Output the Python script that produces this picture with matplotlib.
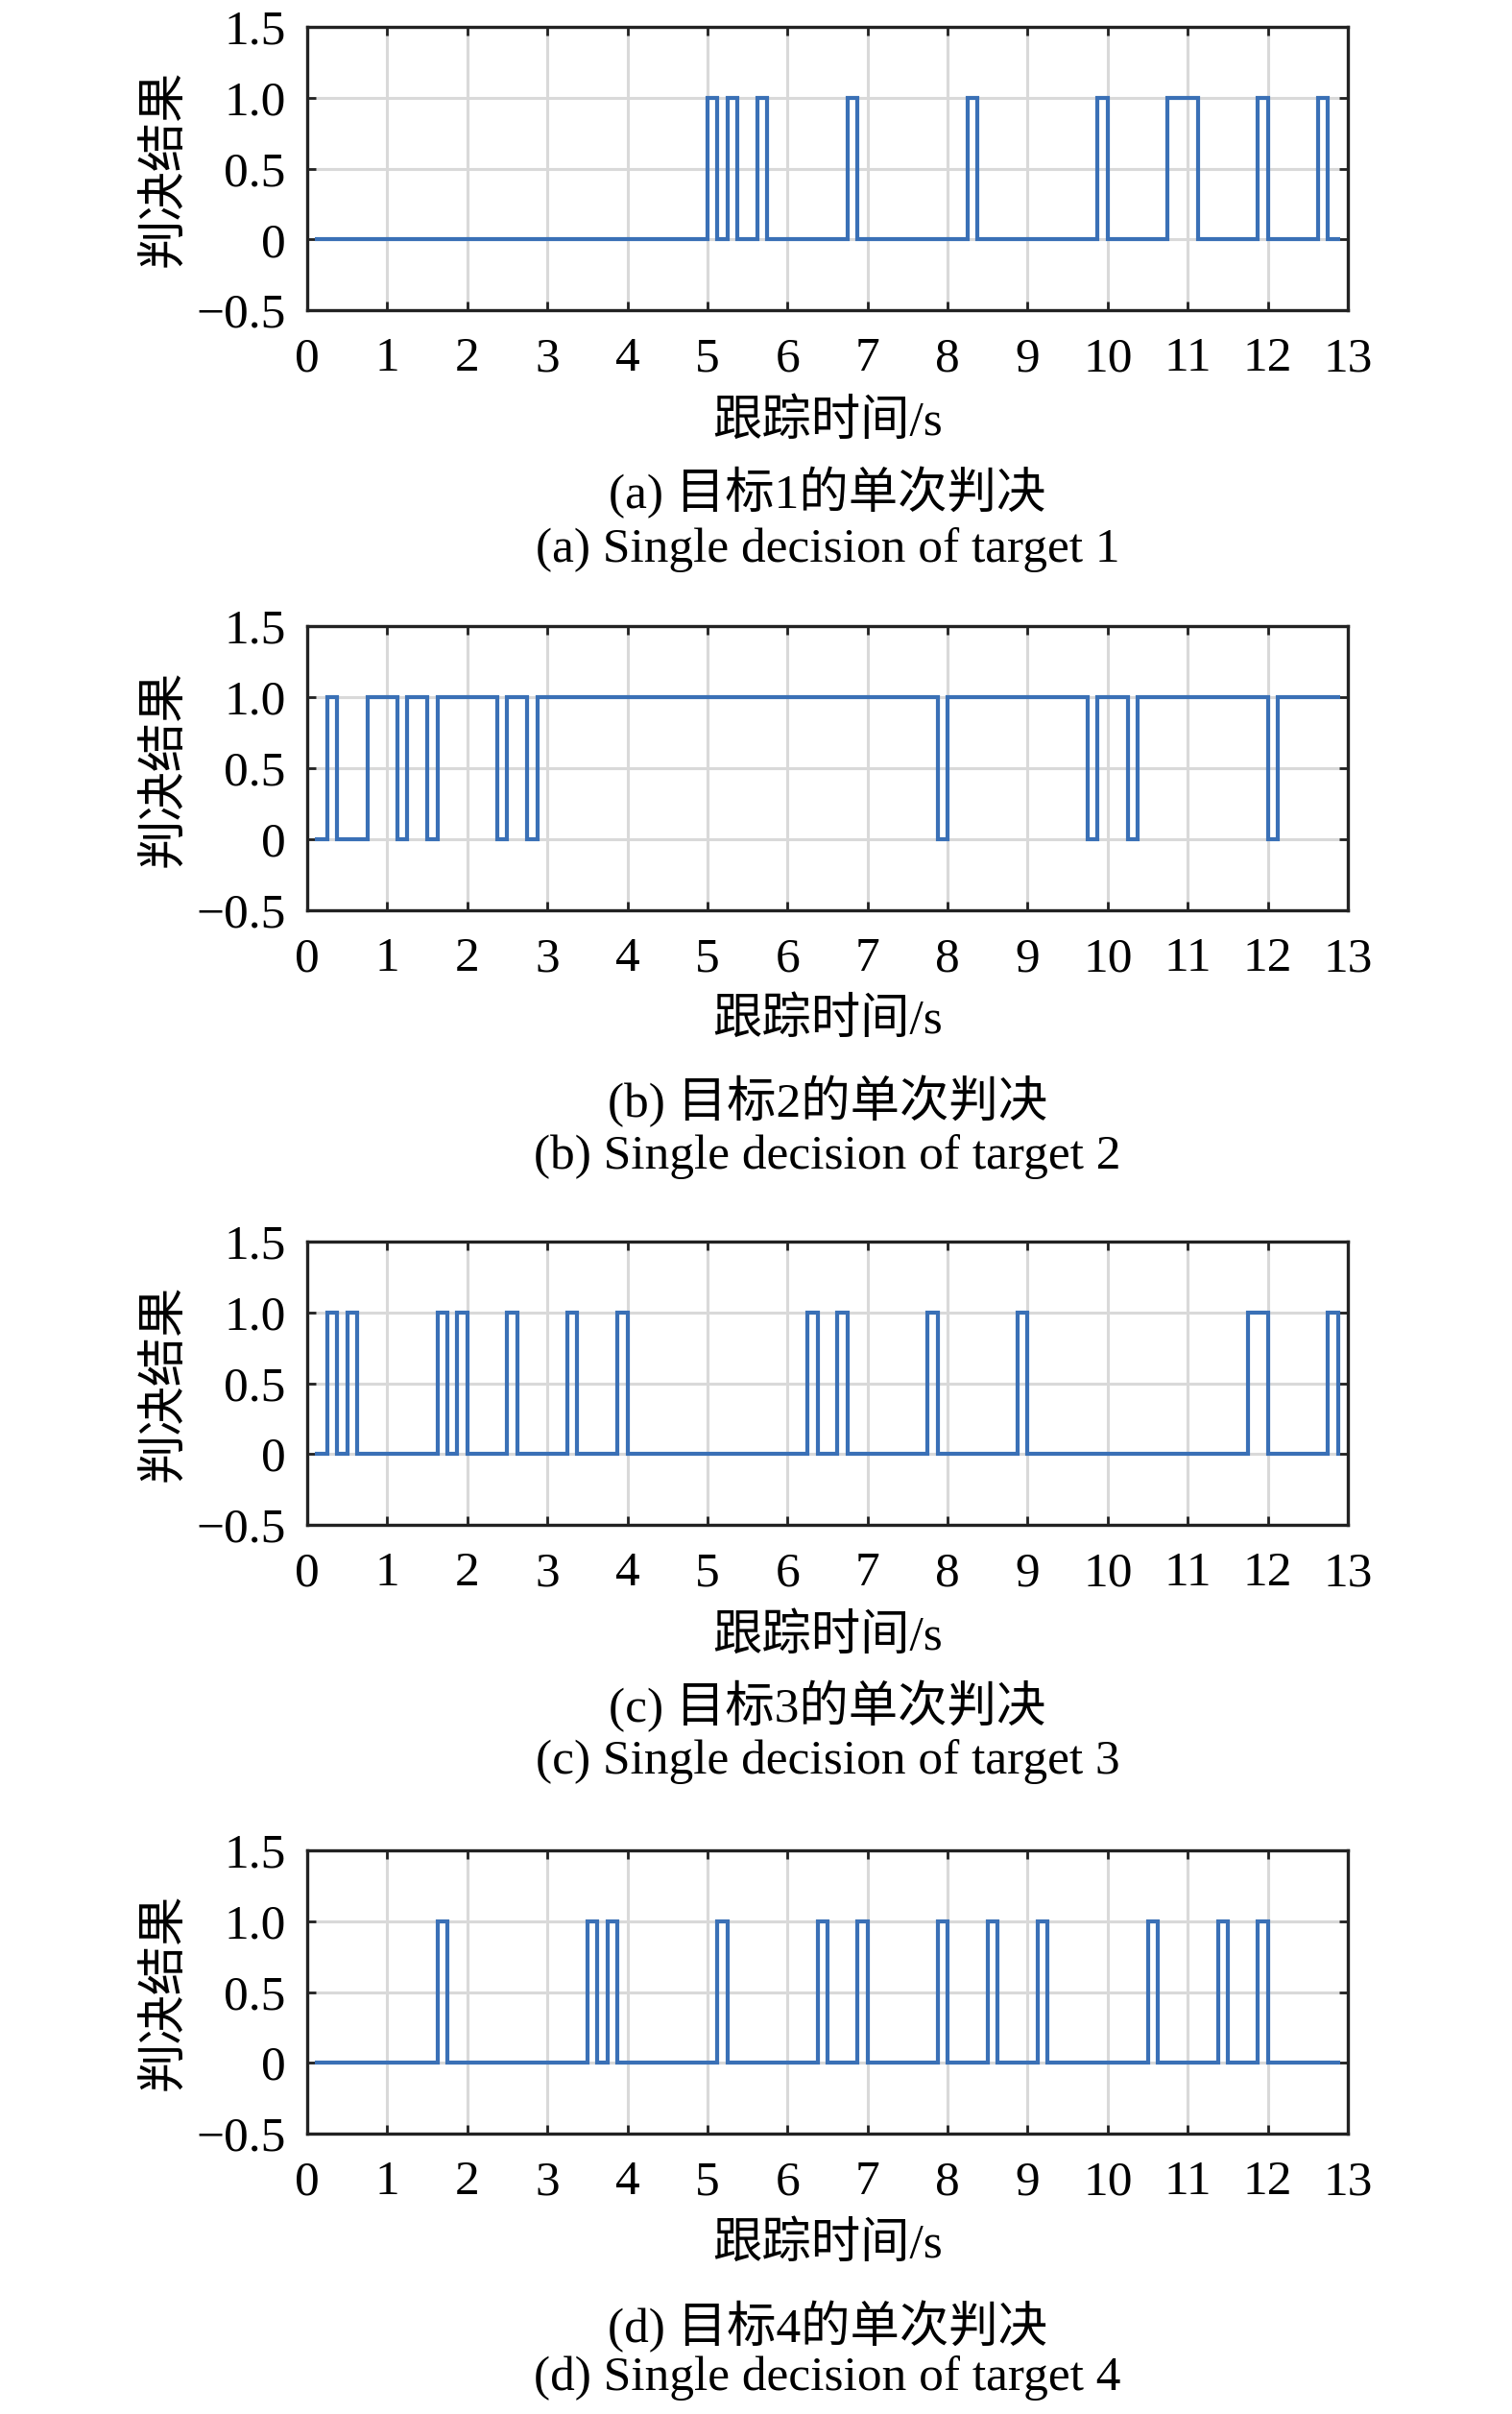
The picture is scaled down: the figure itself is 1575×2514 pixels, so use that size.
import matplotlib
matplotlib.use("Agg")
import matplotlib.pyplot as plt

plt.rcParams['font.family'] = ['Liberation Serif', 'Noto Sans CJK SC', 'DejaVu Sans']
plt.rcParams['axes.unicode_minus'] = True

# ---- data (switch times in seconds and decision levels between them) ----
t1_edges = [0.1, 5.0, 5.125, 5.25, 5.375, 5.625, 5.75, 6.75, 6.875, 8.25, 8.375,
            9.875, 10.0, 10.75, 11.125, 11.875, 12.0, 12.625, 12.75, 12.9]
t1_values = [0, 1, 0, 1, 0, 1, 0, 1, 0, 1, 0, 1, 0, 1, 0, 1, 0, 1, 0]

t2_edges = [0.1, 0.25, 0.375, 0.75, 1.125, 1.25, 1.5, 1.625, 2.375, 2.5, 2.75,
            2.875, 7.875, 8.0, 9.75, 9.875, 10.25, 10.375, 12.0, 12.125, 12.9]
t2_values = [0, 1, 0, 1, 0, 1, 0, 1, 0, 1, 0, 1, 0, 1, 0, 1, 0, 1, 0, 1]

t3_edges = [0.1, 0.25, 0.375, 0.5, 0.625, 1.625, 1.75, 1.875, 2.0, 2.5, 2.625,
            3.25, 3.375, 3.875, 4.0, 6.25, 6.375, 6.625, 6.75, 7.75, 7.875,
            8.875, 9.0, 11.75, 12.0, 12.75, 12.875, 12.9]
t3_values = [0, 1, 0, 1, 0, 1, 0, 1, 0, 1, 0, 1, 0, 1, 0, 1, 0, 1, 0, 1, 0,
             1, 0, 1, 0, 1, 0]

t4_edges = [0.1, 1.625, 1.75, 3.5, 3.625, 3.75, 3.875, 5.125, 5.25, 6.375, 6.5,
            6.875, 7.0, 7.875, 8.0, 8.5, 8.625, 9.125, 9.25, 10.5, 10.625,
            11.375, 11.5, 11.875, 12.0, 12.9]
t4_values = [0, 1, 0, 1, 0, 1, 0, 1, 0, 1, 0, 1, 0, 1, 0, 1, 0, 1, 0, 1, 0,
             1, 0, 1, 0]

x_ticks = list(range(0, 14))
x_ticklabels = [str(v) for v in x_ticks]
y_ticks = [-0.5, 0, 0.5, 1.0, 1.5]
y_ticklabels = ['\u22120.5', '0', '0.5', '1.0', '1.5']

ylabel = '判决结果'
xlabel = '跟踪时间/s'
captions_cn = ['(a) 目标1的单次判决', '(b) 目标2的单次判决',
               '(c) 目标3的单次判决', '(d) 目标4的单次判决']
captions_en = ['(a) Single decision of target 1', '(b) Single decision of target 2',
               '(c) Single decision of target 3', '(d) Single decision of target 4']

series = [(t1_edges, t1_values), (t2_edges, t2_values),
          (t3_edges, t3_values), (t4_edges, t4_values)]

# ---- layout (pixel geometry of the reference) ----
W, H = 1575, 2514
DPI = 100
fig = plt.figure(figsize=(W / DPI, H / DPI), dpi=DPI)

ax_left, ax_right = 320, 1404
ax_tops = [28, 652, 1293, 1927]
ax_bots = [323, 948, 1588, 2222]
xlabel_off = [117, 115, 117, 116]
cap1_off = [190, 199, 189, 201]
cap2_off = [250, 257, 247, 255]

FS = 37
line_color = '#3a70b6'
grid_color = '#d9d9d9'

for i, (edges, vals) in enumerate(series):
    top, bot = ax_tops[i], ax_bots[i]
    ax = fig.add_axes([ax_left / W, 1 - bot / H, (ax_right - ax_left) / W, (bot - top) / H])
    ax.set_xlim(0, 13)
    ax.set_ylim(-0.5, 1.5)
    ax.set_axisbelow(True)
    ax.grid(True, color=grid_color, linewidth=2.2)
    ax.stairs(vals, edges, baseline=None, color=line_color, linewidth=3.0, zorder=3)
    ax.set_xticks(x_ticks)
    ax.set_xticklabels(x_ticklabels)
    ax.set_yticks(y_ticks)
    ax.set_yticklabels(y_ticklabels)
    ax.tick_params(axis='both', direction='in', length=6.5, width=2.0, color='#222222',
                   labelsize=FS, top=True, right=True)
    ax.tick_params(axis='x', pad=20)
    ax.tick_params(axis='y', pad=16)
    for sp in ax.spines.values():
        sp.set_linewidth(2.4)
        sp.set_color('#222222')
    ax.set_ylabel(ylabel, fontsize=FS)
    ax.yaxis.label.set_va('center')
    ax.yaxis.set_label_coords(-(320 - 172) / (ax_right - ax_left), 0.5)
    ax.annotate(xlabel, xy=(0.5, 0), xycoords='axes fraction',
                xytext=(0, -xlabel_off[i] * 72 / DPI), textcoords='offset points',
                ha='center', va='center', fontsize=FS)
    ax.annotate(captions_cn[i], xy=(0.5, 0), xycoords='axes fraction',
                xytext=(0, -cap1_off[i] * 72 / DPI), textcoords='offset points',
                ha='center', va='center', fontsize=FS)
    ax.annotate(captions_en[i], xy=(0.5, 0), xycoords='axes fraction',
                xytext=(0, -cap2_off[i] * 72 / DPI), textcoords='offset points',
                ha='center', va='center', fontsize=FS)

fig.savefig('out.png', dpi=DPI, facecolor='white')
